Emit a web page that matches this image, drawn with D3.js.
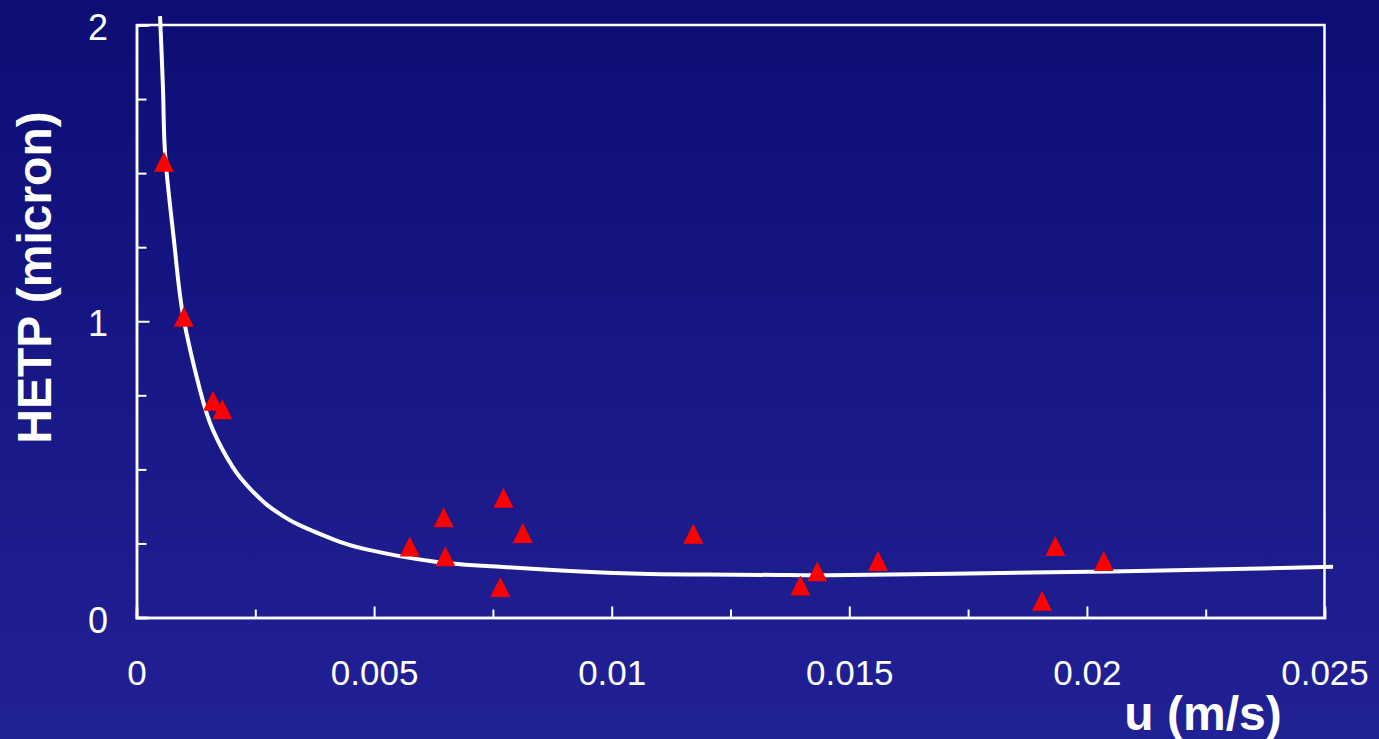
<!DOCTYPE html>
<html>
<head>
<meta charset="utf-8">
<script src="https://cdn.jsdelivr.net/npm/d3@7"></script>
<style>
  html, body { margin: 0; padding: 0; background: #14147f; }
  svg { display: block; }
  text { font-family: "Liberation Sans", Arial, Helvetica, sans-serif; fill: #ffffff; }
</style>
</head>
<body>
<svg id="chart" width="1379" height="739"></svg>
<script>
// Measured plate heights (HETP, micron) against superficial velocity u (m/s)
const measuredU = [0.000579, 0.000995, 0.00161, 0.001806, 0.00575, 0.006465, 0.0065,
                   0.007723, 0.00813, 0.007656, 0.011717, 0.01397, 0.014327, 0.015604,
                   0.019335, 0.019055, 0.020354];
const measuredH = [1.538, 1.015, 0.732, 0.703, 0.240, 0.338, 0.2065,
                   0.404, 0.285, 0.103, 0.283, 0.108, 0.156, 0.1907,
                   0.241, 0.0563, 0.1907];

// Fitted van Deemter curve, tabulated
const fitU = [0.000495, 0.000564, 0.000614, 0.00081, 0.000985, 0.001336, 0.001616,
              0.002037, 0.00239, 0.00274, 0.0031, 0.00344, 0.00414, 0.00484, 0.00625, 0.00765, 0.00933,
              0.0108, 0.012, 0.01354, 0.01501, 0.01922, 0.02133, 0.02518];
const fitH = [2.03, 1.747, 1.538, 1.24, 1.015, 0.768, 0.630,
              0.505, 0.435, 0.381, 0.341, 0.311, 0.264, 0.230, 0.189, 0.171, 0.155,
              0.147, 0.145, 0.1435, 0.1435, 0.1525, 0.158, 0.171];

// Axis ticks
const xMajorTicks = [0, 0.005, 0.01, 0.015, 0.02, 0.025];
const xTickLabels = ["0", "0.005", "0.01", "0.015", "0.02", "0.025"];
const xMinorTicks = [0.0025, 0.0075, 0.0125, 0.0175, 0.0225];
const yMajorTicks = [0, 1, 2];
const yTickLabels = ["0", "1", "2"];
const yMinorTicks = [0.25, 0.5, 0.75, 1.25, 1.5, 1.75];

const W = 1379, H = 739;
const plot = { left: 136.5, right: 1324.5, top: 25, bottom: 617.5 };

const svg = d3.select("#chart");

// Backdrop gradient
const defs = svg.append("defs");
const grad = defs.append("linearGradient")
  .attr("id", "bg").attr("x1", 0).attr("y1", 0).attr("x2", 0).attr("y2", 1);
grad.append("stop").attr("offset", "0%").attr("stop-color", "#0d0d75");
grad.append("stop").attr("offset", "100%").attr("stop-color", "#212196");
svg.append("rect").attr("width", W).attr("height", H).attr("fill", "url(#bg)");

const x = d3.scaleLinear().domain([0, 0.025]).range([plot.left, plot.right]);
const y = d3.scaleLinear().domain([0, 2]).range([plot.bottom, plot.top]);

const axisStroke = 2.5;

// Frame: top and right edges
svg.append("path")
  .attr("d", `M${plot.left},${plot.top}H${plot.right}V${plot.bottom}`)
  .attr("fill", "none").attr("stroke", "#fff").attr("stroke-width", axisStroke);

// X axis (ticks pointing inward)
const xMinor = svg.append("g").attr("transform", `translate(0,${plot.bottom})`)
  .call(d3.axisBottom(x).tickValues(xMinorTicks).tickSize(-8).tickFormat(""));
const xMajor = svg.append("g").attr("transform", `translate(0,${plot.bottom})`)
  .call(d3.axisBottom(x).tickValues(xMajorTicks).tickSize(-11)
    .tickFormat((d, i) => xTickLabels[i]));

// Y axis (ticks pointing inward)
const yMinor = svg.append("g").attr("transform", `translate(${plot.left},0)`)
  .call(d3.axisLeft(y).tickValues(yMinorTicks).tickSize(-10).tickFormat(""));
const yMajor = svg.append("g").attr("transform", `translate(${plot.left},0)`)
  .call(d3.axisLeft(y).tickValues(yMajorTicks).tickSize(-13)
    .tickFormat((d, i) => yTickLabels[i]));

[xMinor, xMajor, yMinor, yMajor].forEach(g => {
  g.select(".domain").attr("stroke", "#fff").attr("stroke-width", axisStroke);
  g.selectAll(".tick line").attr("stroke", "#fff").attr("stroke-width", 2);
});

xMajor.selectAll(".tick text")
  .attr("y", 67.5).attr("dy", 0)
  .attr("font-size", 35).attr("fill", "#fff")
  .attr("font-family", "'Liberation Sans', Arial, sans-serif");
yMajor.selectAll(".tick text")
  .attr("x", -28.5).attr("dy", 14.5)
  .attr("font-size", 36).attr("fill", "#fff")
  .attr("font-family", "'Liberation Sans', Arial, sans-serif");
// end ticks coincide with the frame
xMajor.selectAll(".tick line").filter(d => d === 0 || d === 0.025).remove();
yMajor.selectAll(".tick line").filter(d => d === 0 || d === 2).remove();

// Fitted curve
const fit = fitU.map((u, i) => [u, fitH[i]]);
svg.append("path")
  .datum(fit)
  .attr("fill", "none")
  .attr("stroke", "#fff")
  .attr("stroke-width", 4)
  .attr("d", d3.line().x(d => x(d[0])).y(d => y(d[1])).curve(d3.curveNatural));

// Measured points as red triangles
const tri = "M0,-11.5L10,8.5L-10,8.5Z";
svg.append("g").selectAll("path")
  .data(measuredU.map((u, i) => [u, measuredH[i]]))
  .join("path")
  .attr("transform", d => `translate(${x(d[0])},${y(d[1]) + 1.5})`)
  .attr("d", tri)
  .attr("fill", "#ff0000");

// Axis titles
svg.append("text")
  .attr("transform", "translate(51,277.5) rotate(-90)")
  .attr("text-anchor", "middle")
  .attr("font-size", 48).attr("font-weight", "bold")
  .text("HETP (micron)");

svg.append("text")
  .attr("x", 1203).attr("y", 730)
  .attr("text-anchor", "middle")
  .attr("font-size", 48).attr("font-weight", "bold")
  .text("u (m/s)");
</script>
</body>
</html>
